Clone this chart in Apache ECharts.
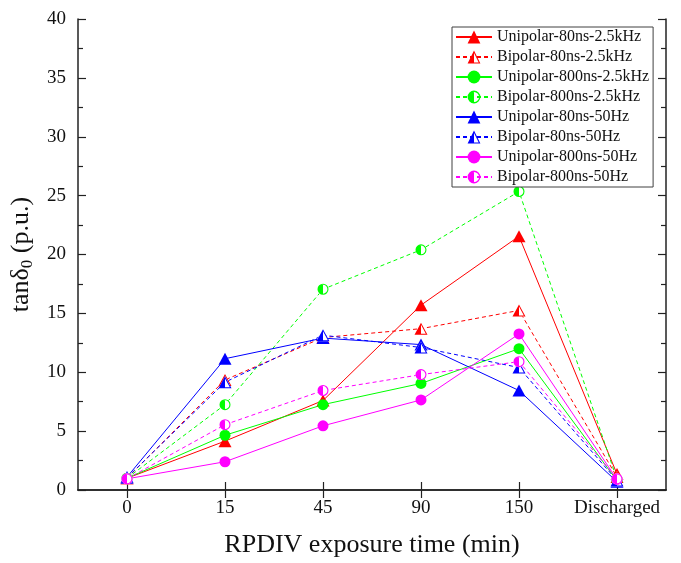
<!DOCTYPE html>
<html><head><meta charset="utf-8">
<script src="https://cdn.jsdelivr.net/npm/echarts@6/dist/echarts.min.js"></script>
<style>html,body{margin:0;padding:0;background:#fff}#c{width:681px;height:563px}</style>
</head><body><div id="c"></div>
<script>
// ---- data ----
const categories = ['0', '15', '45', '90', '150', 'Discharged'];
const seriesNames = [
  'Unipolar-80ns-2.5kHz', 'Bipolar-80ns-2.5kHz',
  'Unipolar-800ns-2.5kHz', 'Bipolar-800ns-2.5kHz',
  'Unipolar-80ns-50Hz', 'Bipolar-80ns-50Hz',
  'Unipolar-800ns-50Hz', 'Bipolar-800ns-50Hz'
];
const uni80k  = [1.0, 4.15, 7.6, 15.7, 21.55, 1.35];
const bi80k   = [1.0, 9.35, 12.95, 13.7, 15.25, 1.1];
const uni800k = [1.0, 4.65, 7.25, 9.05, 12.0, 0.8];
const bi800k  = [1.0, 7.25, 17.05, 20.4, 25.35, 0.9];
const uni80h  = [1.1, 11.15, 12.9, 12.35, 8.45, 0.7];
const bi80h   = [1.05, 9.15, 13.15, 12.1, 10.4, 0.8];
const uni800h = [0.95, 2.4, 5.45, 7.65, 13.25, 0.9];
const bi800h  = [0.95, 5.55, 8.45, 9.8, 10.9, 0.95];
const yMin = 0, yMax = 40, yStep = 5;

// ---- styles ----
const allData = [uni80k, bi80k, uni800k, bi800k, uni80h, bi80h, uni800h, bi800h];
const colors = ['#ff0000', '#ff0000', '#00ff00', '#00ff00', '#0000ff', '#0000ff', '#ff00ff', '#ff00ff'];
const isTri = [true, true, false, false, true, true, false, false];
const isBi = [false, true, false, true, false, true, false, true];
const HALF_CIRCLE = 'path://M50,0A50,50,0,1,1,50,100A50,50,0,1,1,50,0ZM50,10A40,40,0,1,0,50,90A40,40,0,1,0,50,10ZM50,0L50,100A50,50,0,0,1,50,0Z';
const HALF_TRI = 'path://M50,0L100,100L0,100ZM50,17.9L12.95,92L87.05,92ZM50,0L50,100L0,100Z';
const FONT = '"Liberation Serif","Times New Roman",serif';

function symFor(i) {
  if (isBi[i]) return isTri[i] ? HALF_TRI : HALF_CIRCLE;
  return isTri[i] ? 'triangle' : 'circle';
}
function sizeFor(i) { return isTri[i] ? [13, 12] : 11; }

const series = [];
// lines
allData.forEach((d, i) => {
  series.push({
    name: seriesNames[i], type: 'line', data: d, z: 2,
    showSymbol: false, symbol: symFor(i), symbolSize: sizeFor(i),
    itemStyle: { color: colors[i] },
    lineStyle: { color: colors[i], width: 1, type: isBi[i] ? [4, 3] : 'solid' },
    emphasis: { disabled: true }, silent: true, animation: false
  });
});
// markers
allData.forEach((d, i) => {
  if (isBi[i]) {
    series.push({
      name: '_w' + i, type: 'scatter', data: d, z: 3,
      symbol: isTri[i] ? 'triangle' : 'circle', symbolSize: sizeFor(i),
      itemStyle: { color: '#ffffff', opacity: 1 }, silent: true, animation: false
    });
  }
  series.push({
    name: '_m' + i, type: 'scatter', data: d, z: 3,
    symbol: symFor(i), symbolSize: sizeFor(i),
    itemStyle: { color: colors[i], opacity: 1 }, silent: true, animation: false
  });
});

const axisLineStyle = { show: true, lineStyle: { color: '#222', width: 1.5 } };
const chart = echarts.init(document.getElementById('c'), null, { renderer: 'canvas' });
chart.setOption({
  animation: false,
  backgroundColor: '#fff',
  grid: { left: 78, right: 15, top: 19, bottom: 70 },
  legend: {
    data: seriesNames, orient: 'vertical', left: 452, top: 27,
    itemWidth: 36, itemHeight: 16, itemGap: 4, padding: [2, 4, 2, 3],
    borderColor: '#404040', borderWidth: 1, backgroundColor: '#fff',
    textStyle: { fontFamily: FONT, fontSize: 16, color: '#111' },
    selectedMode: false
  },
  xAxis: [{
    type: 'category', data: categories, position: 'bottom',
    axisLine: axisLineStyle,
    axisTick: { show: true, inside: true, alignWithLabel: true, interval: 0, length: 8, lineStyle: { color: '#222', width: 1.2 } },
    axisLabel: { fontFamily: FONT, fontSize: 19, color: '#111', margin: 9, interval: 0 },
    splitLine: { show: false },
    name: 'RPDIV exposure time (min)', nameLocation: 'middle', nameGap: 42,
    nameTextStyle: { fontFamily: FONT, fontSize: 26, color: '#111' }
  }, {
    type: 'category', data: categories, position: 'top',
    axisLine: axisLineStyle,
    axisTick: { show: true, inside: true, alignWithLabel: true, interval: 0, length: 8, lineStyle: { color: '#222', width: 1.2 } },
    axisLabel: { show: false }, splitLine: { show: false }
  }],
  yAxis: [{
    type: 'value', min: yMin, max: yMax, interval: yStep, position: 'left',
    axisLine: axisLineStyle,
    axisTick: { show: true, inside: true, length: 8, lineStyle: { color: '#222', width: 1.2 } },
    minorTick: { show: true, splitNumber: 2, length: 5, lineStyle: { color: '#222', width: 1.2 } },
    axisLabel: { fontFamily: FONT, fontSize: 19, color: '#111', margin: 12 },
    splitLine: { show: false }, minorSplitLine: { show: false },
    name: '{a|tanδ}{s|0}{a| (p.u.)}', nameLocation: 'middle', nameGap: 38,
    nameTextStyle: {
      fontFamily: FONT, fontSize: 26, color: '#111',
      rich: {
        a: { fontFamily: FONT, fontSize: 26, color: '#111' },
        s: { fontFamily: FONT, fontSize: 17, color: '#111', padding: [12, 0, 0, 0] }
      }
    }
  }, {
    type: 'value', min: yMin, max: yMax, interval: yStep, position: 'right',
    axisLine: axisLineStyle,
    axisTick: { show: true, inside: true, length: 8, lineStyle: { color: '#222', width: 1.2 } },
    minorTick: { show: true, splitNumber: 2, length: 5, lineStyle: { color: '#222', width: 1.2 } },
    axisLabel: { show: false }, splitLine: { show: false }, minorSplitLine: { show: false }
  }],
  series: series
});
</script>
</body></html>
